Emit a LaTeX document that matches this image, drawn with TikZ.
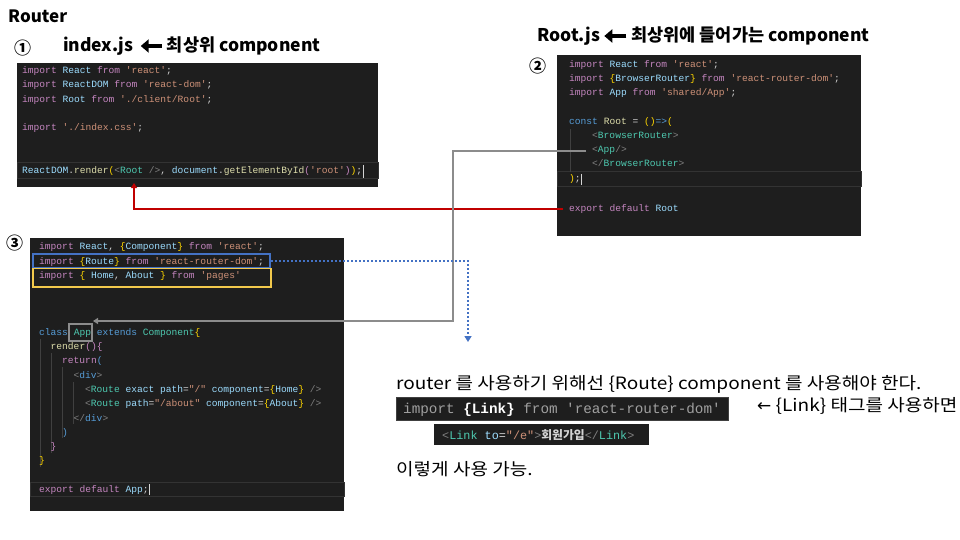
\documentclass[tikz,border=0pt]{standalone}
\usepackage{fontspec}
\setmainfont{Noto Sans CJK KR}
\setmonofont{Liberation Mono}
\newfontfamily\symf{DejaVu Sans}
\newfontfamily\bodyf{Noto Sans CJK KR}[FakeStretch=1.12]
\usetikzlibrary{arrows.meta}
\definecolor{codebg}{HTML}{1E1E1E}
\definecolor{codeln}{HTML}{333333}
\definecolor{cplain}{HTML}{D4D4D4}
\definecolor{ckw}{HTML}{C586C0}
\definecolor{cid}{HTML}{9CDCFE}
\definecolor{cstr}{HTML}{CE9178}
\definecolor{cblue}{HTML}{569CD6}
\definecolor{cteal}{HTML}{4EC9B0}
\definecolor{cyel}{HTML}{FFD700}
\definecolor{cgray}{HTML}{808080}
\definecolor{cfn}{HTML}{DCDCAA}
\definecolor{cdim}{HTML}{A0A0A0}
\definecolor{guidec}{HTML}{404040}
\definecolor{redline}{HTML}{C00000}
\definecolor{grayline}{HTML}{8C8C8C}
\definecolor{blueline}{HTML}{4472C4}
\definecolor{yelline}{HTML}{F2C94C}
\newcommand\cKw[1]{\textcolor{ckw}{#1}}
\newcommand\cId[1]{\textcolor{cid}{#1}}
\newcommand\cSt[1]{\textcolor{cstr}{#1}}
\newcommand\cBl[1]{\textcolor{cblue}{#1}}
\newcommand\cTl[1]{\textcolor{cteal}{#1}}
\newcommand\cYl[1]{\textcolor{cyel}{#1}}
\newcommand\cGy[1]{\textcolor{cgray}{#1}}
\newcommand\cFn[1]{\textcolor{cfn}{#1}}
\tikzset{
  codebox/.style={fill=codebg},
  curline/.style={draw=codeln, line width=1pt},
  codetxt/.style={inner sep=0pt, anchor=base west, text=cplain, font=\ttfamily\fontsize{9.6}{11}\selectfont},
  heading/.style={inner sep=0pt, anchor=base west, font=\bfseries\fontsize{17.5}{21}\selectfont},
  titletxt/.style={inner sep=0pt, anchor=west, font=\bfseries\fontsize{17}{20}\selectfont},
  numtxt/.style={inner sep=0pt, anchor=west, font=\bfseries\fontsize{17}{19}\selectfont},
  bodytxt/.style={inner sep=0pt, anchor=west, font=\bodyf\fontsize{17}{19}\selectfont},
  guide/.style={draw=guidec, line width=0.6pt},
  hlbox/.style={line width=1.6pt},
  conn/.style={line width=2pt},
  bigarrow/.style={line width=3.6pt, -{Triangle[length=8pt,width=13pt]}}
}
\newcommand\codeln[4]{\node[codetxt] (#1) at (#2,#3) {#4};}
\begin{document}
\begin{tikzpicture}[x=1pt,y=-1pt]
\useasboundingbox (0,0) rectangle (960,540);
\fill[white] (0,0) rectangle (960,540);

% headings
\node[titletxt] (title) at (8,16) {Router};
\node[numtxt] (n1) at (14,48) {①};
\node[heading] (h1a) at (63,52) {index.js};
\node[heading, anchor=base west] (h1b) at ([xshift=33pt]h1a.base east) {최상위 component};
\draw[bigarrow] ([xshift=-5pt,yshift=6pt]h1b.base west) -- ([xshift=7pt,yshift=6pt]h1a.base east);
\node[heading] (h2a) at (537,42) {Root.js};
\node[heading, anchor=base west] (h2b) at ([xshift=31pt]h2a.base east) {최상위에 들어가는 component};
\draw[bigarrow] ([xshift=-5pt,yshift=6pt]h2b.base west) -- ([xshift=4pt,yshift=6pt]h2a.base east);
\node[numtxt] (n2) at (529,66) {②};
\node[numtxt] (n3) at (6,243) {③};

% box 1
\fill[codebox] (17,63) rectangle (378,187);
\draw[curline] (17,163) rectangle (378,179);
\codeln{a1}{22}{74}{\cKw{import} \cId{React} \cKw{from} \cSt{'react'};}
\codeln{a2}{22}{88}{\cKw{import} \cId{ReactDOM} \cKw{from} \cSt{'react-dom'};}
\codeln{a3}{22}{103}{\cKw{import} \cId{Root} \cKw{from} \cSt{'./client/Root'};}
\codeln{a4}{22}{131}{\cKw{import} \cSt{'./index.css'};}
\codeln{a5}{22}{174}{\cId{ReactDOM}.\cFn{render}\cYl{(}\cGy{<}\cTl{Root} \cGy{/>}, \cId{document}.\cFn{getElementById}\cKw{(}\cSt{'root'}\cKw{)}\cYl{)};}
\draw[cplain, line width=0.8pt] (363,165) -- (363,178);

% box 2
\fill[codebox] (557,55) rectangle (861,236);
\draw[curline] (557,172) rectangle (861,186);
\draw[guide] (570,129) -- (570,172);
\codeln{b1}{569}{68}{\cKw{import} \cId{React} \cKw{from} \cSt{'react'};}
\codeln{b2}{569}{82}{\cKw{import} \cYl{\{}\cId{BrowserRouter}\cYl{\}} \cKw{from} \cSt{'react-router-dom'};}
\codeln{b3}{569}{96}{\cKw{import} \cId{App} \cKw{from} \cSt{'shared/App'};}
\codeln{b4}{569}{125}{\cBl{const} \cFn{Root} = \cYl{()}\cBl{=>}\cYl{(}}
\codeln{b5}{592}{139}{\cGy{<}\cTl{BrowserRouter}\cGy{>}}
\codeln{b6}{592}{153}{\cGy{<}\cTl{App}\cGy{/>}}
\codeln{b7}{592}{167}{\cGy{</}\cTl{BrowserRouter}\cGy{>}}
\codeln{b8}{569}{182}{\cYl{)};}
\draw[cplain, line width=0.8pt] (581,174) -- (581,185);
\codeln{b9}{569}{211}{\cKw{export} \cKw{default} \cId{Root}}

% box 3
\fill[codebox] (30,238) rectangle (344,511);
\draw[curline] (30,482) rectangle (344,496);
\draw[guide] (40,339) -- (40,467);
\draw[guide] (51,353) -- (51,453);
\draw[guide] (62,367) -- (62,438);
\draw[guide] (73,382) -- (73,424);
\codeln{c1}{39}{249}{\cKw{import} \cId{React}, \cYl{\{}\cId{Component}\cYl{\}} \cKw{from} \cSt{'react'};}
\codeln{c2}{39}{264}{\cKw{import} \cYl{\{}\cId{Route}\cYl{\}} \cKw{from} \cSt{'react-router-dom'};}
\codeln{c3}{39}{278}{\cKw{import} \cYl{\{} \cId{Home}, \cId{About} \cYl{\}} \cKw{from} \cSt{'pages'}}
\codeln{c4}{39}{335}{\cBl{class} \cTl{App} \cBl{extends} \cTl{Component}\cYl{\{}}
\codeln{c5}{50.5}{349}{\cFn{render}\cKw{()\{}}
\codeln{c6}{62}{363}{\cKw{return}\cBl{(}}
\codeln{c7}{73.5}{378}{\cGy{<}\cBl{div}\cGy{>}}
\codeln{c8}{85}{392}{\cGy{<}\cTl{Route} \cId{exact} \cId{path}=\cSt{"/"} \cId{component}=\cYl{\{}\cId{Home}\cYl{\}} \cGy{/>}}
\codeln{c9}{85}{406}{\cGy{<}\cTl{Route} \cId{path}=\cSt{"/about"} \cId{component}=\cYl{\{}\cId{About}\cYl{\}} \cGy{/>}}
\codeln{c10}{73.5}{421}{\cGy{</}\cBl{div}\cGy{>}}
\codeln{c11}{62}{435}{\cBl{)}}
\codeln{c12}{50.5}{449}{\cKw{\}}}
\codeln{c13}{39}{463}{\cYl{\}}}
\codeln{c14}{39}{492}{\cKw{export} \cKw{default} \cId{App};}
\draw[cplain, line width=0.8pt] (149,484) -- (149,495);

% highlight boxes
\draw[hlbox, blueline] (33,254) rectangle (270,268);
\draw[hlbox, yelline] (33,268.5) rectangle (271,287);
\draw[hlbox, grayline] (69,324) rectangle (92,341);

% connectors
\coordinate (redS) at (563,209);
\coordinate (rootref) at (134,183);
\draw[conn, redline, -{Triangle[width=6pt,length=5pt]}] (redS) -| (rootref);
\coordinate (appS) at (586,151);
\coordinate (appT) at (93,321);
\coordinate (appM) at (453,151);
\draw[conn, grayline, -{Triangle[width=6pt,length=5pt]}] (appS) -- (appM) |- (appT);
\coordinate (routeS) at (271,261);
\coordinate (routeT) at (468,342);
\draw[conn, blueline, dotted, -{Triangle[width=7pt,length=6pt]}] (routeS) -| (routeT);

% bottom notes
\node[bodytxt] (note1) at (396,384) {router 를 사용하기 위해선 \{Route\} component 를 사용해야 한다.};
\fill[codebox, draw=guidec] (396,397) rectangle (728,420);
\node[inner sep=0pt, anchor=base west, font=\ttfamily\fontsize{14.3}{16}\selectfont, text=cdim] (d1) at (403,413) {import \textcolor{white}{\bfseries\{Link\}} from 'react-router-dom'};
\node[bodytxt] (note2) at (757,406) {{\symf ←} \{Link\} 태그를 사용하면};
\fill[codebox] (434,424) rectangle (649,445);
\node[inner sep=0pt, anchor=base west, font=\ttfamily\fontsize{11.8}{13}\selectfont, text=cplain] (e1) at (442,439) {\cGy{<}\cTl{Link} \cId{to}=\cSt{"/e"}\cGy{>}{\rmfamily\bfseries 회원가입}\cGy{</}\cTl{Link}\cGy{>}};
\node[bodytxt] (note3) at (396,469) {이렇게 사용 가능.};
\end{tikzpicture}
\end{document}
